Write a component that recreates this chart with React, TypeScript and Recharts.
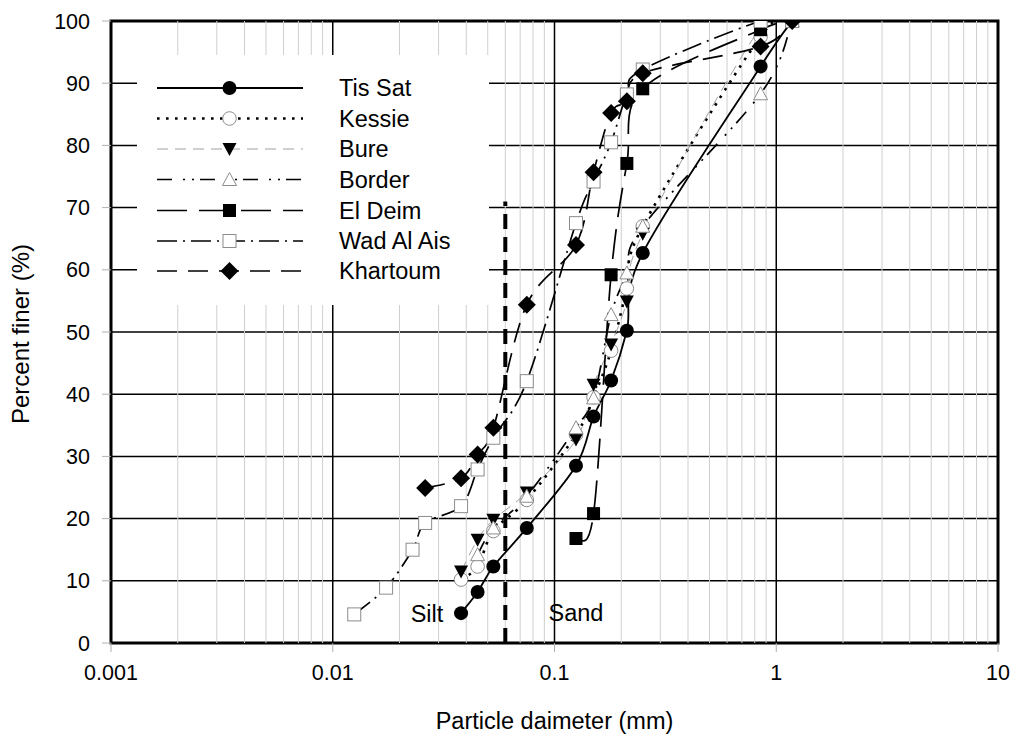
import React from 'react';
import {
  ComposedChart,
  Line,
  XAxis,
  YAxis,
  CartesianGrid,
  ReferenceLine,
  ReferenceArea,
  ReferenceDot,
  Legend,
} from 'recharts';

const FONT = '"Liberation Sans", Arial, Helvetica, sans-serif';

// Grain size distribution: particle diameter (mm) and percent finer (%)
const tisSatDiameter = [0.0379, 0.045, 0.053, 0.075, 0.125, 0.15, 0.18, 0.212, 0.25, 0.85, 1.18];
const tisSatFiner = [4.8, 8.2, 12.3, 18.5, 28.5, 36.4, 42.2, 50.2, 62.7, 92.7, 100];

const kessieDiameter = [0.0379, 0.045, 0.053, 0.075, 0.125, 0.15, 0.18, 0.212, 0.25, 0.85, 1.18];
const kessieFiner = [10.2, 12.3, 18, 23, 33.5, 39.5, 47, 57, 67, 97.5, 100];

const bureDiameter = [0.0379, 0.045, 0.053, 0.075, 0.125, 0.15, 0.18, 0.212, 0.25, 0.85, 1.18];
const bureFiner = [11.5, 16.6, 19.8, 24.2, 32.7, 41.5, 48, 54.9, 65.8, 99, 100];

const borderDiameter = [0.045, 0.053, 0.075, 0.125, 0.15, 0.18, 0.212, 0.25, 0.85, 1.18];
const borderFiner = [14.2, 18.5, 23.6, 34.6, 39.4, 52.8, 59.5, 67, 88.3, 100];

const elDeimDiameter = [0.125, 0.15, 0.18, 0.212, 0.25, 0.85, 1.18];
const elDeimFiner = [16.8, 20.8, 59.2, 77.1, 89.1, 98.6, 100];

const wadAlAisDiameter = [0.0125, 0.0174, 0.0229, 0.0261, 0.0379, 0.045, 0.053, 0.075, 0.125, 0.15, 0.18, 0.212, 0.25, 0.85, 1.18];
const wadAlAisFiner = [4.6, 8.9, 15, 19.3, 22, 27.9, 33, 42.1, 67.5, 74.2, 80.5, 88.2, 92.2, 100, 100];

const khartoumDiameter = [0.0261, 0.0379, 0.045, 0.053, 0.075, 0.125, 0.15, 0.18, 0.212, 0.25, 0.85, 1.18];
const khartoumFiner = [24.9, 26.5, 30.3, 34.6, 54.4, 64, 75.7, 85.2, 87.1, 91.6, 95.9, 100];

// Silt / sand boundary
const boundaryDiameter = 0.06;
const boundaryTop = 71;

const xTicks = [0.001, 0.01, 0.1, 1, 10];
const yTicks = [0, 10, 20, 30, 40, 50, 60, 70, 80, 90, 100];
const decadeLines = [0.01, 0.1, 1];
const minorLines: number[] = [];
for (let e = -3; e < 1; e++) {
  for (let m = 2; m <= 9; m++) minorLines.push(+(m * Math.pow(10, e)).toPrecision(3));
}

type MarkerKind = 'circle' | 'openCircle' | 'triDown' | 'openTriUp' | 'square' | 'openSquare' | 'diamond';

function toPoints(d: number[], p: number[]) {
  return d.map((x, i) => ({ x, y: p[i] }));
}

interface SeriesDef {
  name: string;
  data: { x: number; y: number }[];
  stroke: string;
  width: number;
  dash?: string;
  marker: MarkerKind;
}

const series: SeriesDef[] = [
  { name: 'Tis Sat', data: toPoints(tisSatDiameter, tisSatFiner), stroke: '#000', width: 1.8, marker: 'circle' },
  { name: 'Kessie', data: toPoints(kessieDiameter, kessieFiner), stroke: '#000', width: 2.6, dash: '2.6 6.4', marker: 'openCircle' },
  { name: 'Bure', data: toPoints(bureDiameter, bureFiner), stroke: '#a0a0a0', width: 1, dash: '11 7', marker: 'triDown' },
  { name: 'Border', data: toPoints(borderDiameter, borderFiner), stroke: '#000', width: 1.7, dash: '15 11 2 7 2 6', marker: 'openTriUp' },
  { name: 'El Deim', data: toPoints(elDeimDiameter, elDeimFiner), stroke: '#000', width: 1.7, dash: '30 12', marker: 'square' },
  { name: 'Wad Al Ais', data: toPoints(wadAlAisDiameter, wadAlAisFiner), stroke: '#000', width: 1.7, dash: '20 6 2 6', marker: 'openSquare' },
  { name: 'Khartoum', data: toPoints(khartoumDiameter, khartoumFiner), stroke: '#000', width: 1.7, dash: '20 11', marker: 'diamond' },
];

// Smoothed line through the points (cubic Bezier, Catmull-Rom style tangents)
function smoothCurve(context: any) {
  let xs: number[] = [];
  let ys: number[] = [];
  return {
    areaStart() {},
    areaEnd() {},
    lineStart() {
      xs = [];
      ys = [];
    },
    point(x: number, y: number) {
      xs.push(+x);
      ys.push(+y);
    },
    lineEnd() {
      const n = xs.length;
      if (!n) return;
      context.moveTo(xs[0], ys[0]);
      for (let i = 0; i < n - 1; i++) {
        const a = Math.max(i - 1, 0);
        const d = Math.min(i + 2, n - 1);
        context.bezierCurveTo(
          xs[i] + (xs[i + 1] - xs[a]) / 6,
          ys[i] + (ys[i + 1] - ys[a]) / 6,
          xs[i + 1] - (xs[d] - xs[i]) / 6,
          ys[i + 1] - (ys[d] - ys[i]) / 6,
          xs[i + 1],
          ys[i + 1]
        );
      }
    },
  };
}

function Marker({ kind, x, y }: { kind: MarkerKind; x: number; y: number }) {
  const openStroke = '#8c8c8c';
  switch (kind) {
    case 'circle':
      return <circle cx={x} cy={y} r={7} fill="#000" />;
    case 'openCircle':
      return <circle cx={x} cy={y} r={6.8} fill="#fff" stroke={openStroke} strokeWidth={1} />;
    case 'triDown':
      return <polygon points={`${x - 7},${y - 6} ${x + 7},${y - 6} ${x},${y + 7}`} fill="#000" />;
    case 'openTriUp':
      return (
        <polygon
          points={`${x},${y - 7} ${x + 7},${y + 6} ${x - 7},${y + 6}`}
          fill="#fff"
          stroke={openStroke}
          strokeWidth={1}
        />
      );
    case 'square':
      return <rect x={x - 6.5} y={y - 6.5} width={13} height={13} fill="#000" />;
    case 'openSquare':
      return <rect x={x - 6.5} y={y - 6.5} width={13} height={13} fill="#fff" stroke={openStroke} strokeWidth={1} />;
    case 'diamond':
    default:
      return <polygon points={`${x},${y - 9} ${x + 9},${y} ${x},${y + 9} ${x - 9},${y}`} fill="#000" />;
  }
}

function makeDot(kind: MarkerKind, name: string) {
  return (props: any) => {
    const { cx, cy, index } = props;
    if (cx == null || cy == null) return <g key={`${name}-${index}`} />;
    return (
      <g key={`${name}-${index}`}>
        <Marker kind={kind} x={cx} y={cy} />
      </g>
    );
  };
}

function LegendBox() {
  const rowY = [88, 118.5, 149, 179.5, 210.5, 241, 271];
  const boxLeft = 137;
  const boxTop = 55;
  return (
    <svg width={352} height={250} style={{ display: 'block' }}>
      <rect x={0} y={0} width={352} height={250} fill="#fff" />
      {series.map((s, i) => {
        const y = rowY[i] - boxTop;
        return (
          <g key={s.name}>
            <line
              x1={157 - boxLeft}
              x2={303 - boxLeft}
              y1={y}
              y2={y}
              stroke={s.stroke}
              strokeWidth={s.width}
              strokeDasharray={s.dash}
            />
            <Marker kind={s.marker} x={229.5 - boxLeft} y={y} />
            <text
              x={339 - boxLeft}
              y={y}
              dy="0.35em"
              fontFamily={FONT}
              fontSize={23.5}
              fill="#000"
            >
              {s.name}
            </text>
          </g>
        );
      })}
    </svg>
  );
}

const tickStyle = { fontFamily: FONT, fontSize: 21.5, fill: '#000' };

function XTick(props: any) {
  const { x, y, payload } = props;
  return (
    <text x={x} y={y} dy={26} textAnchor="middle" fontFamily={FONT} fontSize={21.5} fill="#000">
      {String(payload.value)}
    </text>
  );
}

function BoundaryLabel(text: string) {
  return (props: any) => {
    const vb = props.viewBox || {};
    return (
      <text
        x={vb.x}
        y={vb.y}
        dy="0.35em"
        textAnchor="middle"
        fontFamily={FONT}
        fontSize={23.5}
        fill="#000"
      >
        {text}
      </text>
    );
  };
}

export default function App() {
  return (
    <div style={{ position: 'absolute', left: 0, top: 0, width: 1013, height: 735, background: '#fff' }}>
      <ComposedChart width={1013} height={735} margin={{ top: 21, right: 15, bottom: 0, left: 0 }}>
        <XAxis
          type="number"
          dataKey="x"
          scale="log"
          domain={[0.001, 10]}
          ticks={xTicks}
          allowDataOverflow
          height={92}
          axisLine={false}
          tickLine={{ stroke: '#b0b0b0', strokeWidth: 1 }}
          tickSize={9}
          tick={<XTick />}
          label={{
            value: 'Particle daimeter (mm)',
            position: 'insideBottom',
            offset: 6,
            style: { fontFamily: FONT, fontSize: 23.5, fill: '#000' },
          }}
        />
        <YAxis
          type="number"
          dataKey="y"
          domain={[0, 100]}
          ticks={yTicks}
          allowDataOverflow
          width={111}
          axisLine={false}
          tickLine={{ stroke: '#b0b0b0', strokeWidth: 1 }}
          tickSize={9}
          tickMargin={12}
          tick={tickStyle}
          label={{
            value: 'Percent finer (%)',
            angle: -90,
            position: 'insideLeft',
            offset: 20,
            dy: 2,
            style: { fontFamily: FONT, fontSize: 24, fill: '#000', textAnchor: 'middle' },
          }}
        />
        {minorLines.map((v) => (
          <ReferenceLine key={`m${v}`} x={v} stroke="#cfcfcf" strokeWidth={1} />
        ))}
        <CartesianGrid vertical={false} horizontal stroke="#000" strokeWidth={1.5} horizontalValues={yTicks} />
        {decadeLines.map((v) => (
          <ReferenceLine key={`d${v}`} x={v} stroke="#000" strokeWidth={1.5} />
        ))}
        <Legend
          layout="vertical"
          align="center"
          verticalAlign="middle"
          wrapperStyle={{ position: 'absolute', left: 137, top: 55, width: 352, height: 250, margin: 0, padding: 0 }}
          content={() => <LegendBox />}
        />
        {series.map((s) => (
          <Line
            key={s.name}
            data={s.data}
            dataKey="y"
            name={s.name}
            type={smoothCurve as any}
            stroke={s.stroke}
            strokeWidth={s.width}
            strokeDasharray={s.dash}
            dot={makeDot(s.marker, s.name)}
            activeDot={false}
            legendType="none"
            isAnimationActive={false}
          />
        ))}
        <ReferenceLine
          segment={[
            { x: boundaryDiameter, y: 0 },
            { x: boundaryDiameter, y: boundaryTop },
          ]}
          stroke="#000"
          strokeWidth={4}
          strokeDasharray="15 8"
        />
        <ReferenceDot x={0.0266} y={4.7} r={0} fill="none" stroke="none" label={BoundaryLabel('Silt')} />
        <ReferenceDot x={0.125} y={4.8} r={0} fill="none" stroke="none" label={BoundaryLabel('Sand')} />
        <ReferenceArea x1={0.001} x2={10} y1={0} y2={100} fill="none" stroke="#000" strokeWidth={3} />
      </ComposedChart>
    </div>
  );
}
